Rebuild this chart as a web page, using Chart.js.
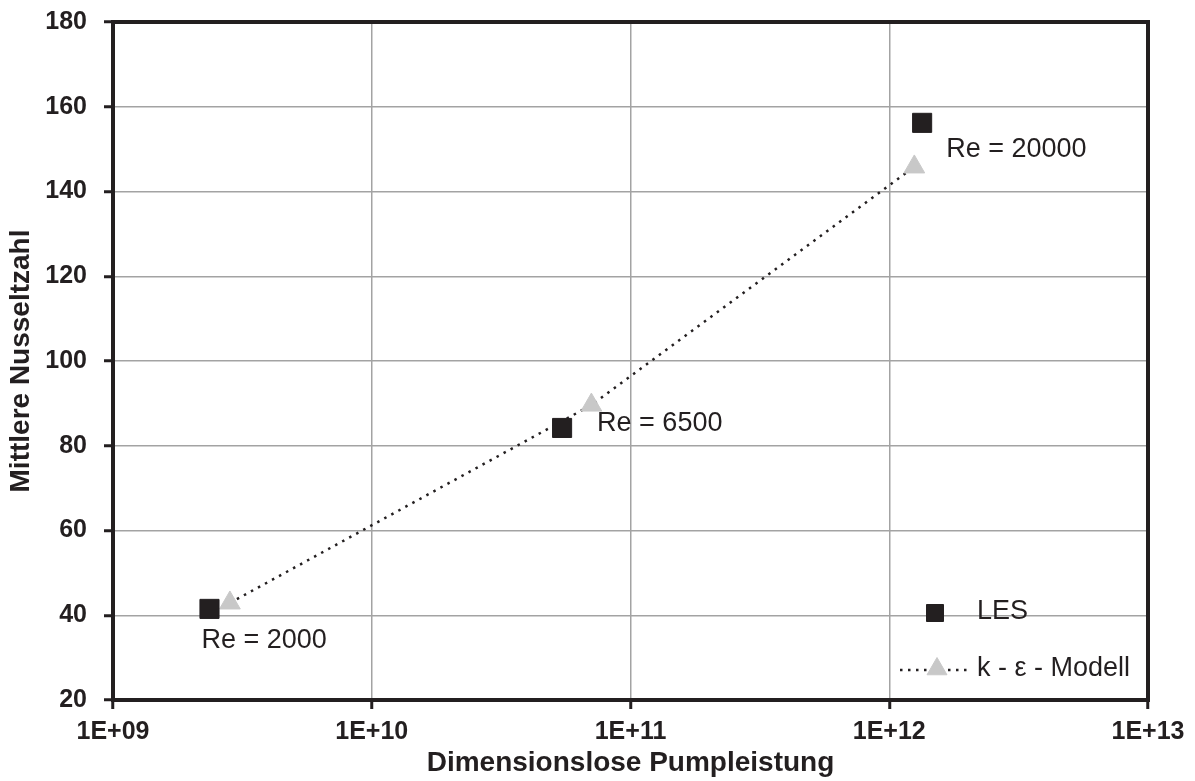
<!DOCTYPE html>
<html>
<head>
<meta charset="utf-8">
<script src="https://cdn.jsdelivr.net/npm/chart.js@4/dist/chart.umd.min.js"></script>
<style>
  html, body { margin: 0; padding: 0; background: #ffffff; }
  #wrap { width: 1195px; height: 781px; }
</style>
</head>
<body>
<div id="wrap"><canvas id="c" width="1195" height="781"></canvas></div>
<script>
// Dimensionslose Pumpleistung (x) und mittlere Nusseltzahl (y)
const reLabels = ['Re = 2000', 'Re = 6500', 'Re = 20000'];
const lesX = [2.36e9, 5.44e10, 1.34e12];
const lesY = [41.5, 84.2, 156.2];
const keX = [2.83e9, 7.06e10, 1.25e12];
const keY = [42.9, 89.6, 145.8];
const xTickValues = [1e9, 1e10, 1e11, 1e12, 1e13];
const xTickLabels = ['1E+09', '1E+10', '1E+11', '1E+12', '1E+13'];
const yTickValues = [20, 40, 60, 80, 100, 120, 140, 160, 180];
const seriesNames = ['LES', 'k - \u03b5 - Modell'];

const INK = '#231f20';
const GRID = '#a3a3a3';
const TRI = '#c8c8c8';
const FONT = '"Liberation Sans", Arial, sans-serif';

// Frame around the plot area (top/right/left/bottom)
const framePlugin = {
  id: 'frame',
  beforeDatasetsDraw(chart) {
    const { ctx, chartArea: a } = chart;
    ctx.save();
    ctx.strokeStyle = INK;
    ctx.lineWidth = 4;
    ctx.strokeRect(a.left, a.top, a.right - a.left, a.bottom - a.top);
    ctx.restore();
  }
};

// Reynolds-number annotations next to the LES points
const reLabelPlugin = {
  id: 'reLabels',
  afterDatasetsDraw(chart) {
    const { ctx } = chart;
    const pts = chart.getDatasetMeta(0).data;
    const offsets = [[-8, 32], [35, -4], [24, 27]];
    ctx.save();
    ctx.font = '27px ' + FONT;
    ctx.fillStyle = INK;
    ctx.textAlign = 'left';
    ctx.textBaseline = 'middle';
    reLabels.forEach((t, i) => {
      const p = pts[i];
      ctx.fillText(t, p.x + offsets[i][0], p.y + offsets[i][1]);
    });
    ctx.restore();
  }
};

// Legend drawn inside the lower right of the plot area
const innerLegendPlugin = {
  id: 'innerLegend',
  afterDraw(chart) {
    const { ctx, chartArea: a } = chart;
    const ds = chart.data.datasets;
    const textX = a.right - 171;
    const row1 = a.bottom - 88;
    const row2 = a.bottom - 31;
    ctx.save();
    // LES entry
    ctx.fillStyle = ds[0].backgroundColor;
    ctx.strokeStyle = ds[0].borderColor;
    ctx.lineWidth = 1;
    ctx.beginPath();
    const s = 8.5;
    ctx.rect(a.right - 213 - s, row1 + 1 - s, 2 * s, 2 * s);
    ctx.fill();
    ctx.stroke();
    // k-epsilon entry: dotted line with triangle
    ctx.strokeStyle = ds[1].borderColor;
    ctx.lineWidth = ds[1].borderWidth;
    ctx.setLineDash(ds[1].borderDash);
    ctx.beginPath();
    ctx.moveTo(a.right - 248, row2 + 1);
    ctx.lineTo(a.right - 178, row2 + 1);
    ctx.stroke();
    ctx.setLineDash([]);
    ctx.fillStyle = ds[1].pointBackgroundColor;
    ctx.strokeStyle = ds[1].pointBorderColor;
    ctx.lineWidth = 1;
    const cx = a.right - 211, cy = row2, r = 11.5;
    ctx.beginPath();
    ctx.moveTo(cx, cy - r);
    ctx.lineTo(cx + Math.sin(2 * Math.PI / 3) * r, cy + 0.5 * r);
    ctx.lineTo(cx - Math.sin(2 * Math.PI / 3) * r, cy + 0.5 * r);
    ctx.closePath();
    ctx.fill();
    ctx.stroke();
    // Texts
    ctx.font = '27px ' + FONT;
    ctx.fillStyle = INK;
    ctx.textAlign = 'left';
    ctx.textBaseline = 'middle';
    ctx.fillText(seriesNames[0], textX, row1);
    ctx.fillText(seriesNames[1], textX, row2);
    ctx.restore();
  }
};

const lesData = lesX.map((x, i) => ({ x: x, y: lesY[i] }));
const keData = keX.map((x, i) => ({ x: x, y: keY[i] }));

new Chart(document.getElementById('c'), {
  type: 'scatter',
  data: {
    datasets: [
      {
        label: seriesNames[0],
        data: lesData,
        pointStyle: 'rect',
        pointRadius: 13.5,
        pointHoverRadius: 13.5,
        backgroundColor: INK,
        borderColor: INK,
        borderWidth: 1,
        showLine: false
      },
      {
        label: seriesNames[1],
        data: keData,
        pointStyle: 'triangle',
        pointRadius: 12,
        pointHoverRadius: 12,
        pointBackgroundColor: TRI,
        pointBorderColor: TRI,
        pointBorderWidth: 1,
        backgroundColor: TRI,
        borderColor: INK,
        borderWidth: 2.5,
        borderDash: [2.5, 5.5],
        showLine: true,
        tension: 0
      }
    ]
  },
  options: {
    responsive: false,
    animation: false,
    devicePixelRatio: 1,
    layout: { padding: { top: 22, right: 47, left: 0, bottom: 0 } },
    plugins: {
      legend: { display: false },
      tooltip: { enabled: false }
    },
    scales: {
      x: {
        type: 'logarithmic',
        min: 1e9,
        max: 1e13,
        afterBuildTicks(scale) {
          scale.ticks = xTickValues.map(v => ({ value: v, major: true }));
        },
        afterFit(scale) {
          scale.height = 81;
          scale.paddingLeft = 0;
          scale.paddingRight = 0;
        },
        ticks: {
          autoSkip: false,
          maxRotation: 0,
          padding: 8,
          color: INK,
          font: { family: FONT, size: 25, weight: 'bold' },
          callback(value) {
            const i = xTickValues.indexOf(value);
            return i >= 0 ? xTickLabels[i] : '';
          }
        },
        grid: {
          color: GRID,
          lineWidth: 1.5,
          tickColor: INK,
          tickLength: 9,
          tickWidth: 3
        },
        border: { display: false },
        title: {
          display: true,
          text: 'Dimensionslose Pumpleistung',
          color: INK,
          font: { family: FONT, size: 28, weight: 'bold' },
          padding: { top: 0, bottom: 1 }
        }
      },
      y: {
        min: 20,
        max: 180,
        afterBuildTicks(scale) {
          scale.ticks = yTickValues.map(v => ({ value: v }));
        },
        afterFit(scale) {
          scale.width = 113;
          scale.paddingTop = 0;
          scale.paddingBottom = 0;
        },
        ticks: {
          padding: 17,
          color: INK,
          font: { family: FONT, size: 25, weight: 'bold' }
        },
        grid: {
          color: GRID,
          lineWidth: 1.5,
          tickColor: INK,
          tickLength: 9,
          tickWidth: 3
        },
        border: { display: false },
        title: {
          display: true,
          text: 'Mittlere Nusseltzahl',
          color: INK,
          font: { family: FONT, size: 28, weight: 'bold' },
          padding: { top: 4, bottom: 0 }
        }
      }
    }
  },
  plugins: [framePlugin, reLabelPlugin, innerLegendPlugin]
});
</script>
</body>
</html>
